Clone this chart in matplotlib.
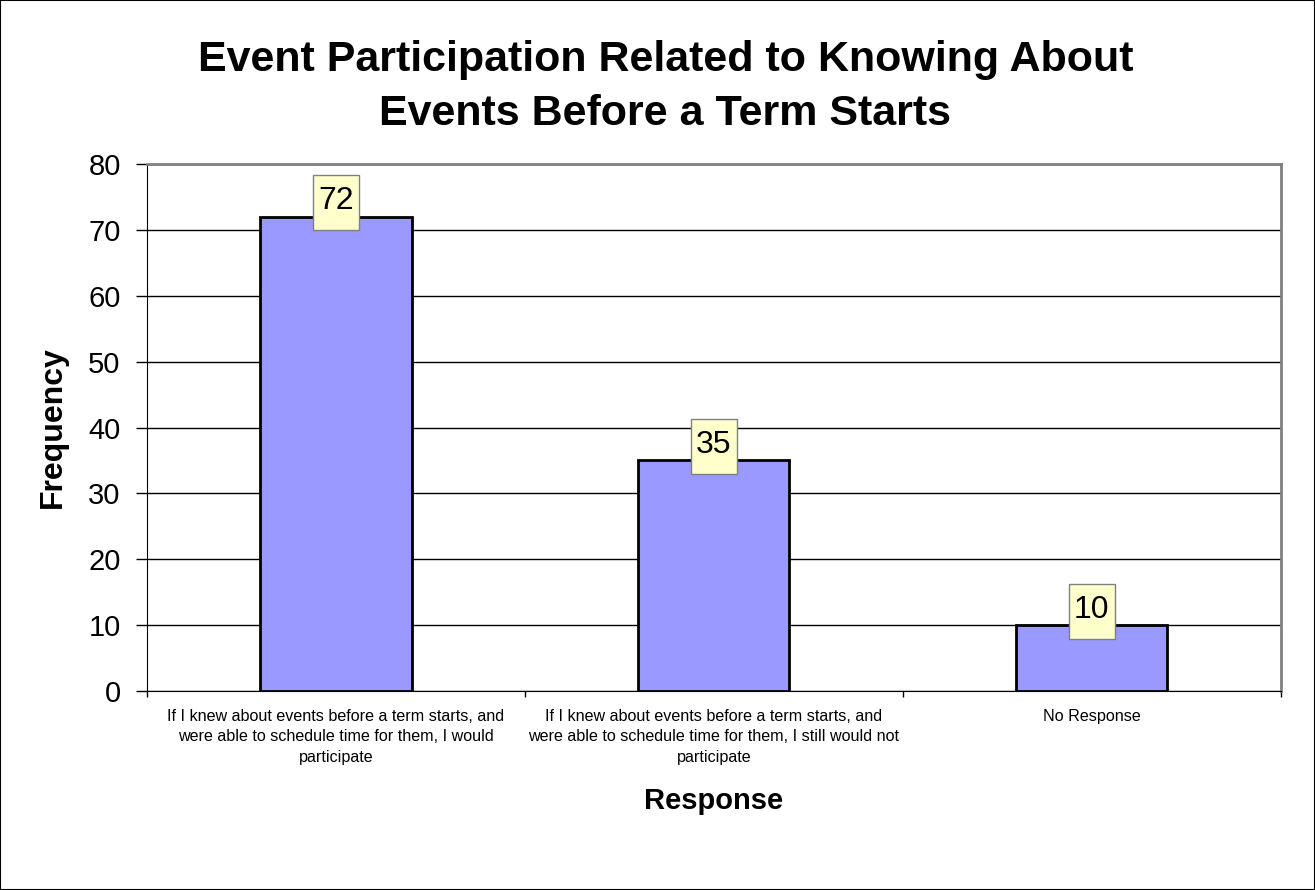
import matplotlib
matplotlib.use("Agg")
import matplotlib.pyplot as plt
from matplotlib.patches import Rectangle
from matplotlib.transforms import ScaledTranslation

plt.rcParams['font.family'] = ['Liberation Sans', 'DejaVu Sans']

# data
categories = ["If I knew about events before a term starts, and\nwere able to schedule time for them, I would\nparticipate",
              "If I knew about events before a term starts, and\nwere able to schedule time for them, I still would not\nparticipate",
              "No Response"]
frequency = [72, 35, 10]
yticks = [0, 10, 20, 30, 40, 50, 60, 70, 80]

fig = plt.figure(figsize=(13.15, 8.9), dpi=100)
ax = fig.add_axes([0.1118, 0.2236, 0.8621, 0.5921])

pos = list(range(len(categories)))
ax.bar(pos, frequency, width=0.4, color='#9999FF', edgecolor='black', linewidth=2, zorder=3)

# data labels in small yellow boxes (sizes in inches at 100 dpi)
for x, v in zip(pos, frequency):
    tr = fig.dpi_scale_trans + ScaledTranslation(x, v, ax.transData)
    ax.add_patch(Rectangle((-0.23, 0.14 - 0.275), 0.46, 0.55, transform=tr,
                           facecolor='#FFFFCC', edgecolor='#808080', linewidth=1,
                           zorder=5, clip_on=False))
    ax.text(0, 0.155, str(v), transform=tr, ha='center', va='center',
            fontsize=23, zorder=6)

ax.set_xlim(-0.5, 2.5)
ax.set_ylim(0, 80)
ax.set_yticks(yticks)
ax.tick_params(axis='y', labelsize=21, length=8, width=1, direction='out', pad=11)
ax.set_xticks([-0.5, 0.5, 1.5, 2.5])
ax.set_xticklabels([])
ax.tick_params(axis='x', which='major', length=4.5, width=1, direction='out')
ax.set_xticks(pos, minor=True)
ax.set_xticklabels(categories, minor=True, fontsize=11.6, linespacing=1.45)
ax.tick_params(axis='x', which='minor', length=0, pad=13)

ax.yaxis.grid(True, color='black', linewidth=1, zorder=0)
ax.set_axisbelow(True)
ax.spines['left'].set_color('black')
ax.spines['bottom'].set_color('black')
ax.spines['top'].set_color('#808080')
ax.spines['right'].set_color('#808080')
ax.spines['top'].set_linewidth(2)
ax.spines['right'].set_linewidth(2)

ax.set_ylabel('Frequency', fontsize=23, fontweight='bold', labelpad=15)
ax.set_xlabel('Response', fontsize=21, fontweight='bold', labelpad=16)

fig.text(0.506, 0.902, 'Event Participation Related to Knowing About\nEvents Before a Term Starts',
         ha='center', va='center', fontsize=31, fontweight='bold', linespacing=1.45)

fig.patches.append(Rectangle((0, 0), 1, 1, transform=fig.transFigure, fill=False,
                             edgecolor='black', linewidth=1.5))

fig.savefig('out.png', dpi=100, facecolor='white')
